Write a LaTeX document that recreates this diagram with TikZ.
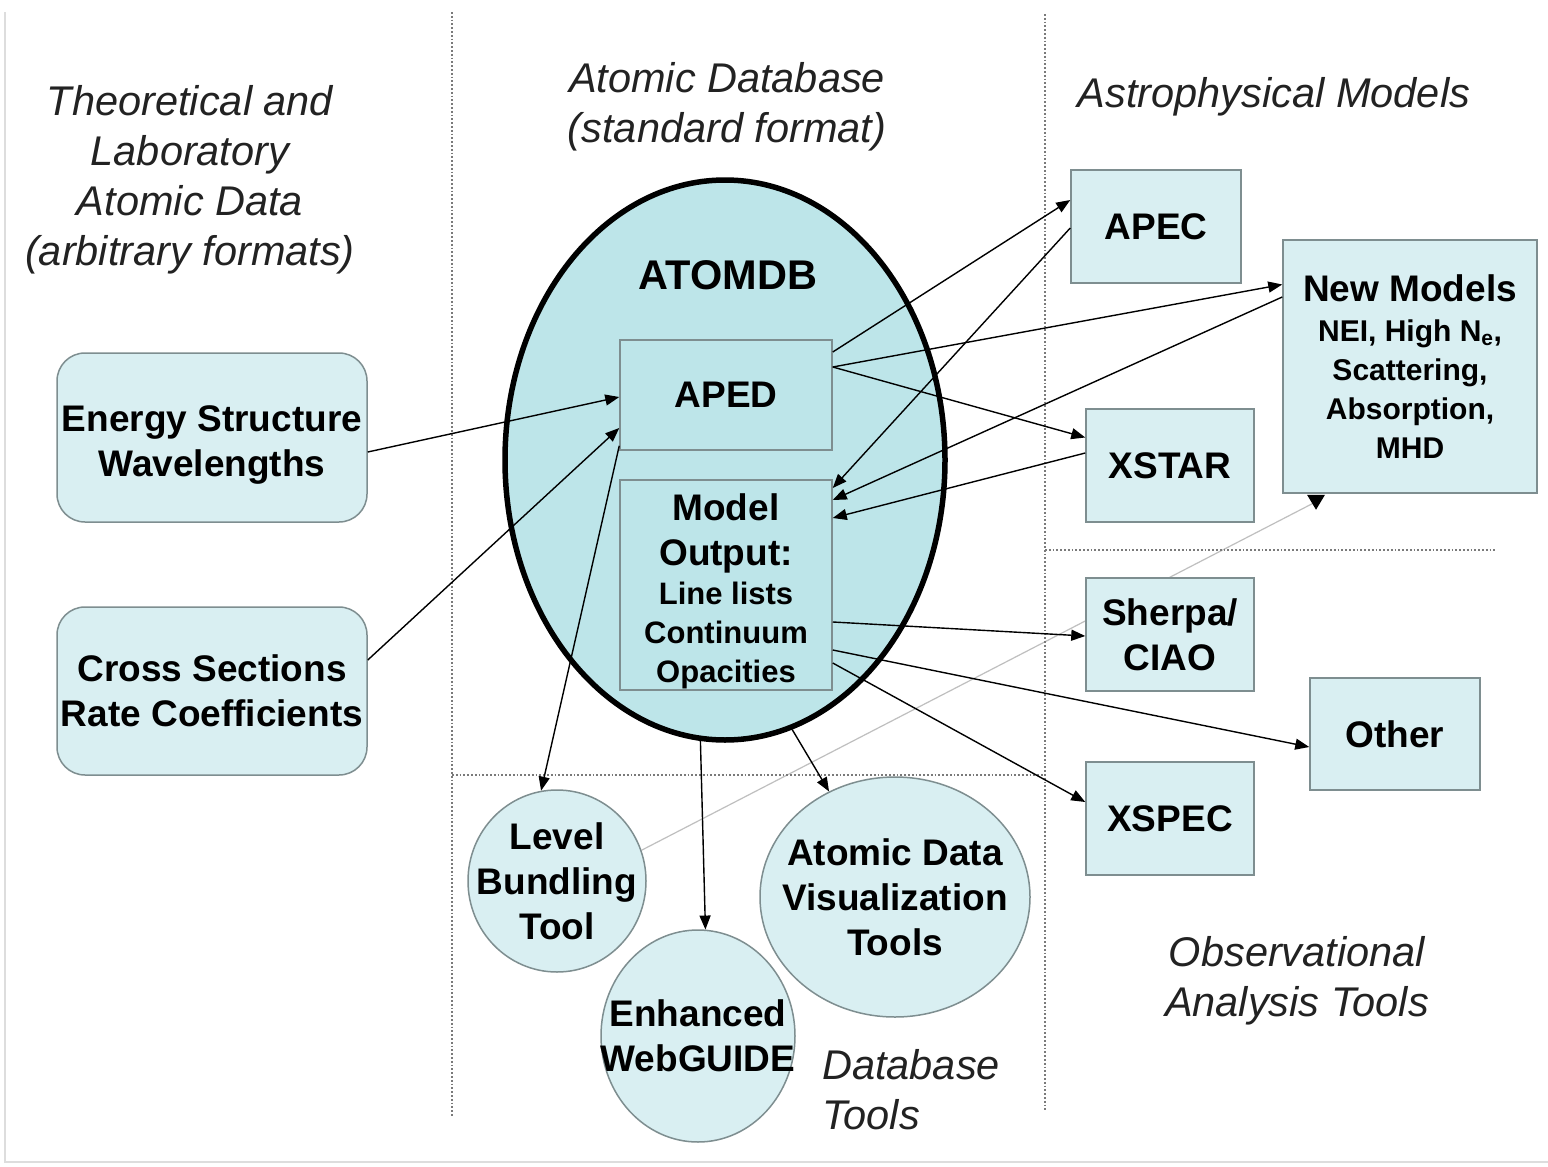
\documentclass[tikz,border=0pt]{standalone}
\usepackage{fontspec}
\setmainfont{Liberation Sans}
\usetikzlibrary{arrows.meta,calc,shapes.geometric}
\definecolor{ellfill}{HTML}{BDE5E9}
\definecolor{boxfill}{HTML}{D9EFF2}
\definecolor{boxline}{HTML}{7E8E90}
\definecolor{dotcol}{HTML}{7A7A7A}
\definecolor{titlecol}{HTML}{222222}
\definecolor{framecol}{HTML}{DDDDDD}
\pgfdeclarelayer{background}
\pgfsetlayers{background,main}
\newcommand{\smallline}{\fontsize{31}{39}\selectfont}
\newcommand{\nmline}{\fontsize{30}{39.5}\selectfont}
\begin{document}
\begin{tikzpicture}[x=1pt,y=-1pt,
  box/.style={draw=boxline, line width=1.5pt, fill=boxfill, inner sep=0pt, align=center,
    font=\fontsize{37}{45}\selectfont\bfseries, text=black},
  inbox/.style={box, fill=ellfill},
  rbox/.style={box, rounded corners=28pt},
  tool/.style={ellipse, draw=boxline, line width=1.5pt, fill=boxfill, inner sep=-80pt, align=center,
    font=\fontsize{37}{45}\selectfont\bfseries, text=black},
  title/.style={align=center, font=\fontsize{41.5}{50}\selectfont\itshape, text=titlecol, inner sep=0pt},
  sep/.style={dotcol, dotted, line width=1.8pt},
  conn/.style={black, line width=1.4pt, -{Triangle[length=14pt,width=11pt]}},
]
\useasboundingbox (0,0) rectangle (1548,1167);
% frame
\draw[framecol, line width=1.5pt] (5,12) -- (5,1162) -- (1548,1162);
% separators
\draw[sep] (452,12) -- (452,1117);
\draw[sep] (1045,14) -- (1045,1112);
\draw[sep] (452,775) -- (1045,775);
\draw[sep] (1045,550) -- (1495,550);

% titles
\node[title] (t1) at (190,179.5) {Theoretical and\\Laboratory\\Atomic Data\\(arbitrary formats)};
\node[title] (t2) at (727,107) {Atomic Database\\(standard format)};
\node[title] (t3) at (1274,97) {Astrophysical Models};
\node[title] (t4) at (1297,981) {Observational\\Analysis Tools};
\node[title, align=left, anchor=west] (t5) at (822,1090) {Database\\Tools};

% left boxes
\node[rbox, minimum width=310pt, minimum height=169pt] (energy) at (212,437.5) {\rule{0pt}{40pt}Energy Structure\\Wavelengths};
\node[rbox, minimum width=310pt, minimum height=168pt] (cross) at (212,691) {Cross Sections\\Rate Coefficients};

% right boxes
\node[box, minimum width=170pt, minimum height=113pt] (apec) at (1156,226.5) {APEC};
\node[box, minimum width=254pt, minimum height=253pt] (newm) at (1410,366.5)
  {New Models\\[-5pt]\nmline NEI, High N\textsubscript{e},\\[-6pt]\nmline Scattering,\\[-6pt]\nmline Absorption,\\[-6pt]\nmline MHD};
\node[box, minimum width=168pt, minimum height=113pt] (xstar) at (1170,465.5) {XSTAR};
\node[box, minimum width=168pt, minimum height=113pt] (sherpa) at (1170,634.5) {Sherpa/\\CIAO};
\node[box, minimum width=170pt, minimum height=112pt] (other) at (1395,734) {Other};
\node[box, minimum width=168pt, minimum height=113pt] (xspec) at (1170,818.5) {XSPEC};

% circles (tools)
\node[tool, minimum width=178pt, minimum height=182pt] (level) at (557,881) {Level\\Bundling\\Tool};
\node[tool, minimum width=194pt, minimum height=212pt] (web) at (698,1036) {Enhanced\\WebGUIDE};
\node[tool, minimum width=270pt, minimum height=240pt] (vis) at (895,897) {Atomic Data\\Visualization\\Tools};

% white page and light gray link from level bundling to new models (behind everything)
\begin{pgfonlayer}{background}
\fill[white] (0,0) rectangle (1548,1167);
\draw[black!25, line width=1.2pt] (level.20) -- ([xshift=-94pt,yshift=-8pt]newm.south);
\end{pgfonlayer}
\fill ([xshift=-103pt,yshift=-1pt]newm.south) -- ([xshift=-85pt,yshift=-1pt]newm.south) -- ([xshift=-94pt,yshift=-16pt]newm.south) -- cycle;

% ATOMDB ellipse
\node[ellipse, draw=black, line width=5.5pt, fill=ellfill, minimum width=440pt, minimum height=560pt, inner sep=0pt] (atomdb) at (725,460) {};
\node[font=\fontsize{41.5}{50}\selectfont\bfseries, inner sep=0pt] (atomdblabel) at (728,275) {ATOMDB};
\node[inbox, minimum width=212pt, minimum height=110pt] (aped) at (726,395) {APED};
\node[inbox, minimum width=212pt, minimum height=210pt] (model) at (726,585)
  {\rule{0pt}{40pt}Model\\Output:\\[-6pt]\smallline Line lists\\[-6pt]\smallline Continuum\\[-6pt]\smallline Opacities};

% connectors
\draw[conn] ([yshift=-14.5pt]energy.east) -- ([yshift=-2pt]aped.west);
\draw[conn] ([yshift=31pt]cross.east) -- ([yshift=-33pt]aped.west);
\draw[conn] ([yshift=5pt]aped.south west) -- (level.100);
\draw[conn] (atomdb.265) -- (web.86);
\draw[conn] (atomdb.284) -- (vis.122);
\draw[conn] ([yshift=43pt]aped.east) -- ([yshift=26.5pt]apec.west);
\draw[conn] ([yshift=28pt]aped.east) -- ([yshift=82pt]newm.west);
\draw[conn] ([yshift=28pt]aped.east) -- ([yshift=28pt]xstar.west);
\draw[conn] ([yshift=-1.5pt]apec.west) -- ([yshift=97pt]model.east);
\draw[conn] ([yshift=69.5pt]newm.west) -- ([yshift=85pt]model.east);
\draw[conn] ([yshift=12.5pt]xstar.west) -- ([yshift=67pt]model.east);
\draw[conn] ([yshift=-37pt]model.east) -- ([yshift=-1.5pt]sherpa.west);
\draw[conn] ([yshift=-65pt]model.east) -- ([yshift=-13pt]other.west);
\draw[conn] ([yshift=-78pt]model.east) -- ([yshift=16.5pt]xspec.west);
\end{tikzpicture}
\end{document}
